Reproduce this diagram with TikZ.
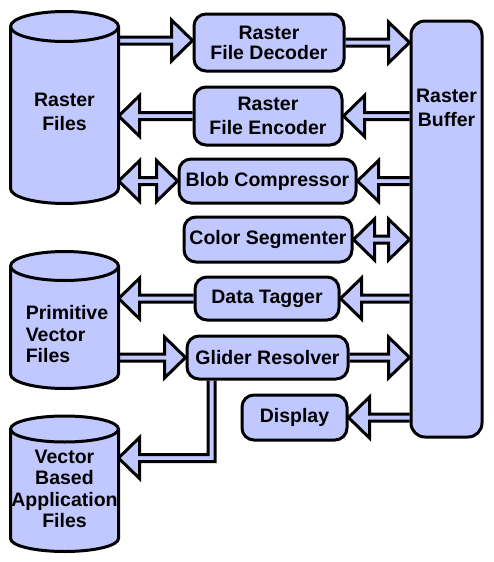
\documentclass[tikz,border=0pt]{standalone}
\usepackage{fontspec}
\setmainfont{Liberation Sans}
\usetikzlibrary{calc,backgrounds}
\definecolor{bfill}{RGB}{192,200,255}
% horizontal block arrow: #1 tail, #2 tip, #3 y source, #4 head length (signed)
\newcommand\arH[4]{\draw[blk] let \p1=#1, \p2=#2, \p3=#3 in
  ({\x1},{\y3+3.5pt}) -- ({\x2-(#4)},{\y3+3.5pt}) -- ({\x2-(#4)},{\y3+20.5pt}) -- ({\x2},{\y3}) --
  ({\x2-(#4)},{\y3-20.5pt}) -- ({\x2-(#4)},{\y3-3.5pt}) -- ({\x1},{\y3-3.5pt});}
% double block arrow left-right: #1 left tip, #2 right tip, #3 y source
\newcommand\arD[3]{\draw[blk] let \p1=#1, \p2=#2, \p3=#3 in
  ({\x1},{\y3}) -- ({\x1+21pt},{\y3+20.5pt}) -- ({\x1+21pt},{\y3+3.5pt}) -- ({\x2-21pt},{\y3+3.5pt}) --
  ({\x2-21pt},{\y3+20.5pt}) -- ({\x2},{\y3}) -- ({\x2-21pt},{\y3-20.5pt}) -- ({\x2-21pt},{\y3-3.5pt}) --
  ({\x1+21pt},{\y3-3.5pt}) -- ({\x1+21pt},{\y3-20.5pt}) -- cycle;}
% cylinder: xl xr ytop ybot ry
\newcommand\mycyl[5]{%
  \draw[cyl] (#1,#3) -- (#1,#4) arc[start angle=180,end angle=360,x radius={(#2-#1)/2},y radius=#5]
    -- (#2,#3) arc[start angle=0,end angle=180,x radius={(#2-#1)/2},y radius=#5] -- cycle;
  \draw[line width=3pt] (#1,#3) arc[start angle=180,end angle=360,x radius={(#2-#1)/2},y radius=#5];}
\begin{document}
\begin{tikzpicture}[x=1pt,y=1pt,
  box/.style={draw=black, fill=bfill, line width=3pt, rounded corners=12pt, inner sep=0pt, align=center,
    font=\bfseries\fontsize{19.5}{24}\selectfont},
  blk/.style={draw=black, fill=bfill, line width=3pt, line join=miter, miter limit=10},
  cyl/.style={draw=black, fill=bfill, line width=3pt},
  txt/.style={inner sep=0pt, align=center, font=\bfseries\fontsize{19.5}{21.5}\selectfont}]
\useasboundingbox (0,0) rectangle (493,-562);

% cylinders
\mycyl{10.5}{118.5}{-26.5}{-188.5}{15}
\mycyl{10.5}{118.5}{-266}{-374}{14.5}
\mycyl{10.5}{118.5}{-429}{-538.5}{13}
\node[txt, minimum width=108pt, font=\bfseries\fontsize{19.5}{24}\selectfont] (rf) at (64.5,-112) {Raster\\Files};
\node[txt, minimum width=108pt, align=left] (pv) at (64.5,-334.5) {\hspace*{5pt}Primitive\\\hspace*{5pt}Vector\\\hspace*{5pt}Files};
\node[txt, minimum width=108pt] (vb) at (64.5,-489) {Vector\\Based\\Application\\Files};
\coordinate (vbtip) at (118.5,-458);

% boxes
\node[box, minimum width=150pt, minimum height=57pt, font=\bfseries\fontsize{19.5}{20}\selectfont] (dec) at (269,-42.5) {Raster\\File Decoder};
\node[box, minimum width=148pt, minimum height=58pt] (enc) at (268,-116) {Raster\\File Encoder};
\node[box, minimum width=177pt, minimum height=44pt] (blob) at (267.5,-181) {Blob Compressor};
\node[box, minimum width=168pt, minimum height=45pt] (col) at (268,-239.5) {Color Segmenter};
\node[box, minimum width=144pt, minimum height=43pt] (tag) at (267,-298.5) {Data Tagger};
\node[box, minimum width=161pt, minimum height=43pt] (gl) at (267.5,-357.5) {Glider Resolver};
\node[box, minimum width=105pt, minimum height=45pt] (disp) at (294.5,-417.5) {Display};
\node[box, minimum width=71pt, minimum height=416pt, rounded corners=14pt] (buf) at (446.5,-229) {};
\node[txt, font=\bfseries\fontsize{19.5}{24}\selectfont] (buftxt) at (446.5,-108) {Raster\\Buffer};

% connectors
\begin{scope}[on background layer]
\arH{(rf.east)}{(dec.west)}{($(dec.west)+(0,2)$)}{21pt}
\arH{(dec.east)}{(buf.west |- dec.east)}{(dec.east)}{21pt}
\arH{(buf.west |- enc.east)}{(enc.east)}{(enc.east)}{-21pt}
\arH{(enc.west)}{(rf.east |- enc.west)}{(enc.west)}{-21pt}
\arD{(rf.east |- blob.west)}{(blob.west)}{(blob.west)}
\arH{(buf.west |- blob.east)}{(blob.east)}{(blob.east)}{-21pt}
\arD{(col.east)}{(buf.west |- col.east)}{(col.east)}
\arH{(buf.west |- tag.east)}{(tag.east)}{(tag.east)}{-21pt}
\arH{(tag.west)}{(pv.east |- tag.west)}{(tag.west)}{-21pt}
\arH{(pv.east |- gl.west)}{(gl.west)}{(gl.west)}{21pt}
\arH{(gl.east)}{(buf.west |- gl.east)}{(gl.east)}{21pt}
\arH{(buf.west |- disp.east)}{(disp.east)}{(disp.east)}{-21pt}
\draw[blk] let \p1=($(gl.south west)!0.16!(gl.south east)$), \p2=(vbtip) in
  ({\x1-3.5pt},{\y1}) -- ({\x1-3.5pt},{\y2+3.5pt}) -- ({\x2+21pt},{\y2+3.5pt}) -- ({\x2+21pt},{\y2+20.5pt}) --
  ({\x2},{\y2}) -- ({\x2+21pt},{\y2-20.5pt}) -- ({\x2+21pt},{\y2-3.5pt}) -- ({\x1+3.5pt},{\y2-3.5pt}) -- ({\x1+3.5pt},{\y1});
\end{scope}
\end{tikzpicture}
\end{document}
